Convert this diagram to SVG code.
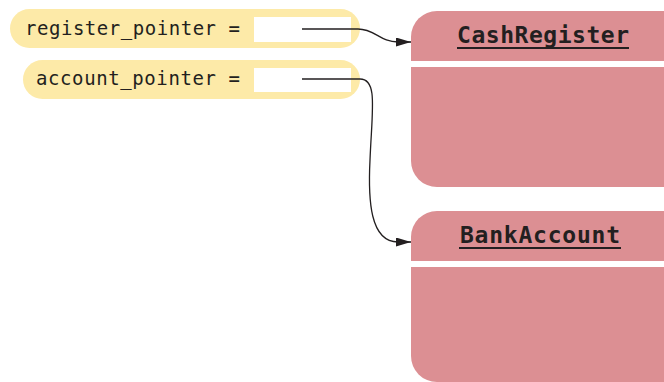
<svg xmlns="http://www.w3.org/2000/svg" width="664" height="382" viewBox="0 0 664 382">
<defs>
<marker id="arr" markerWidth="15" markerHeight="9" refX="15" refY="4.5" orient="auto" markerUnits="userSpaceOnUse">
<path d="M0,0 L15,4.5 L0,9 Z" fill="#231f20"/>
</marker>
</defs>
<style>
.pill{fill:#fdeaa8}
.slot{fill:#ffffff}
.var{font-family:"DejaVu Sans Mono","Liberation Mono",monospace;font-size:19px;fill:#231f20}
.obj{fill:#dc8f93}
.sep{fill:#ffffff}
.title{font-family:"DejaVu Sans Mono","Liberation Mono",monospace;font-size:23px;font-weight:bold;fill:#231f20}
.ul{stroke:#231f20;stroke-width:2}
.conn{fill:none;stroke:#231f20;stroke-width:1.3}
</style>
<g id="register_pointer">
<rect class="pill" x="10" y="9" width="350" height="39" rx="19.5"/>
<rect class="slot" x="254" y="17" width="97" height="25"/>
<text class="var" x="25" y="35" textLength="215" lengthAdjust="spacing">register_pointer =</text>
</g>
<g id="account_pointer">
<rect class="pill" x="23" y="60" width="337" height="39" rx="19.5"/>
<rect class="slot" x="254" y="68" width="97" height="24"/>
<text class="var" x="36" y="85" textLength="204" lengthAdjust="spacing">account_pointer =</text>
</g>
<g id="CashRegister">
<rect class="obj" x="411" y="11" width="280" height="176" rx="26"/>
<rect class="sep" x="411" y="61" width="253" height="6"/>
<text class="title" x="457" y="43" textLength="172" lengthAdjust="spacing">CashRegister</text>
<line class="ul" x1="457" y1="48" x2="629" y2="48"/>
</g>
<g id="BankAccount">
<rect class="obj" x="411" y="211" width="280" height="171" rx="26"/>
<rect class="sep" x="411" y="261" width="253" height="6"/>
<text class="title" x="460" y="243" textLength="160" lengthAdjust="spacing">BankAccount</text>
<line class="ul" x1="459" y1="248" x2="621" y2="248"/>
</g>
<g id="connectors">
<path class="conn" d="M302,29 L358,29 C375,29 380,42 398,42 L411,42" marker-end="url(#arr)"/>
<path class="conn" d="M302,79 L360,79 C378,79 372,110 370,160 C368,200 370,242 398,242 L411,242" marker-end="url(#arr)"/>
</g>
</svg>
